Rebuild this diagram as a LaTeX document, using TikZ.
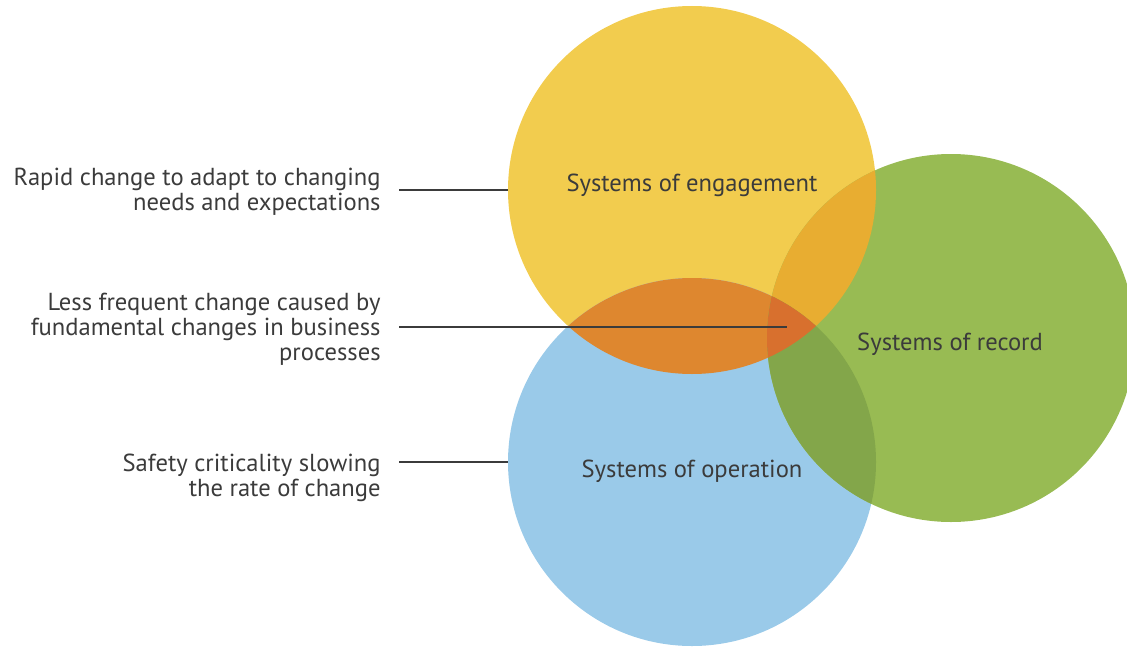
\documentclass[tikz,border=0pt]{standalone}
\usepackage{fontspec}
\setmainfont{PT Sans}
\usepackage{tikz}

\definecolor{engyellow}{HTML}{F2CC4E}
\definecolor{opblue}{HTML}{9ACAE9}
\definecolor{recgreen}{HTML}{98BB53}
\definecolor{engop}{HTML}{DE872F}
\definecolor{engrec}{HTML}{E8AD31}
\definecolor{oprec}{HTML}{83A64A}
\definecolor{allthree}{HTML}{D8702E}
\definecolor{inkgray}{HTML}{3B3B3B}

\begin{document}
\begin{tikzpicture}[x=0.5pt, y=-0.5pt,
    every node/.style={text=inkgray, font=\fontsize{12.3}{12.5}\selectfont},
    sys/.style={circle, minimum size=184pt, inner sep=0pt},
    note/.style={anchor=east, align=right, inner sep=0pt},
    leader/.style={draw=inkgray, line width=1.3pt}]
\clip (0,0) rectangle (1127,647);

% the three system circles
\node[sys, fill=engyellow] (eng) at (692,190) {};
\node[sys, fill=opblue] (op) at (692,462) {};
\node[sys, fill=recgreen] (rec) at (951,338) {};

% overlaps
\begin{scope}
    \clip (eng.center) circle (92pt);
    \fill[engop] (op.center) circle (92pt);
    \fill[engrec] (rec.center) circle (92pt);
\end{scope}
\begin{scope}
    \clip (op.center) circle (92pt);
    \fill[oprec] (rec.center) circle (92pt);
    \clip (eng.center) circle (92pt);
    \fill[allthree] (rec.center) circle (92pt);
\end{scope}

\node (engtext) at (692,185) {Systems of engagement};
\node (optext) at (692,471) {Systems of operation};
\node (rectext) at (950,344) {Systems of record};

% notes on the left
\node[note] (rapid) at (381,192) {Rapid change to adapt to changing\\needs and expectations};
\node[note] (lessfreq) at (381,329) {Less frequent change caused by\\fundamental changes in business\\processes};
\node[note] (safety) at (381,478) {Safety criticality slowing\\the rate of change};

\coordinate (core) at (787,327);
\draw[leader] ([xshift=9pt]eng.west -| rapid.east) -- (eng.west);
\draw[leader] ([xshift=9pt]core -| lessfreq.east) -- (core);
\draw[leader] ([xshift=9pt]op.west -| safety.east) -- (op.west);
\end{tikzpicture}
\end{document}
